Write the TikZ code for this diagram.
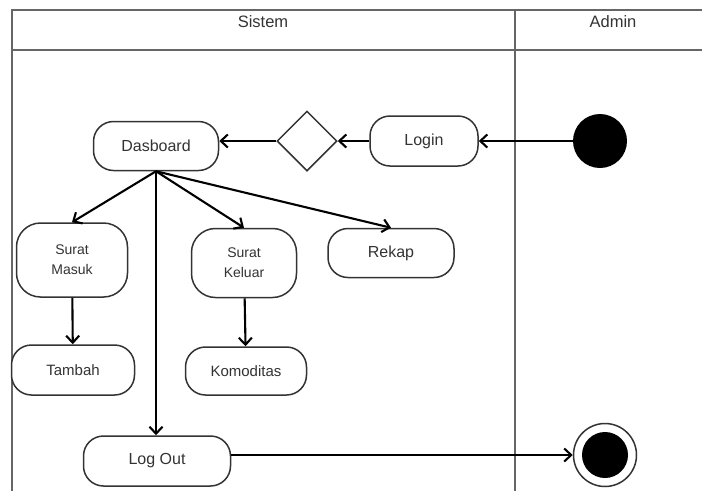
\documentclass[tikz,border=0pt]{standalone}
\usepackage{fontspec}
\setmainfont{Liberation Sans}
\usetikzlibrary{shapes.geometric,arrows.meta}

\begin{document}
\begin{tikzpicture}[yscale=-1, x=1pt, y=1pt,
    act/.style={draw=black!80, line width=1.5pt, rounded corners=20pt, fill=white,
      text=black!80, font=\fontsize{16}{18}\selectfont, align=center, inner sep=0pt},
    flow/.style={-{Straight Barb[length=7pt,width=13pt]}, line width=2.1pt},
    lane/.style={draw=black!60, line width=1.5pt}]
    \useasboundingbox (0,0) rectangle (702,491);

    % swimlanes
    \draw[lane] (12,491) -- (12,10) -- (702,10);
    \draw[lane] (12,50) -- (702,50);
    \draw[lane] (515,10) -- (515,491);
    \node[text=black!80, font=\fontsize{16.5}{18}\selectfont] (sistem) at (263,22) {Sistem};
    \node[text=black!80, font=\fontsize{16.5}{18}\selectfont] (admin) at (613,22) {Admin};

    \node[circle, fill=black, minimum size=54pt, inner sep=0pt] (init) at (600,141) {};
    \node[act, minimum width=108pt, minimum height=50pt] (login) at (424,141) {Login};
    \node[diamond, draw=black!80, line width=1.5pt, minimum width=60pt, minimum height=60pt,
      inner sep=0pt] (dec) at (307,141) {};
    \node[act, minimum width=125pt, minimum height=49pt] (dash) at (156,146) {Dasboard};

    \node[act, rounded corners=24pt, minimum width=111pt, minimum height=74pt,
      font=\fontsize{14}{20}\selectfont] (masuk) at (72,260) {Surat\\Masuk};
    \node[act, rounded corners=24pt, minimum width=105pt, minimum height=69pt,
      font=\fontsize{14}{20}\selectfont] (keluar) at (244,263) {Surat\\Keluar};
    \node[act, minimum width=126pt, minimum height=49pt] (rekap) at (391,253) {Rekap};
    \node[act, minimum width=123pt, minimum height=50pt,
      font=\fontsize{15}{18}\selectfont] (tambah) at (73,370) {Tambah};
    \node[act, minimum width=121pt, minimum height=48pt,
      font=\fontsize{15}{18}\selectfont] (komod) at (246,371) {Komoditas};
    \node[act, minimum width=147pt, minimum height=50pt] (logout) at (157,461) {Log Out};

    \node[circle, draw=black!80, line width=1.5pt, minimum size=63pt, inner sep=0pt] (final) at (605,455) {};
    \fill (final.center) circle (23pt);

    \draw[flow] (init) -- (login);
    \draw[flow] (login) -- (dec);
    \draw[flow] (dec.west) -- (dec.west -| dash.east);
    \draw[flow] (dash.south) -- (masuk.north);
    \draw[flow] (dash.south) -- (keluar.north);
    \draw[flow] (dash.south) -- (rekap.north);
    \draw[flow] (dash.south) -- (dash.south |- logout.north);
    \draw[flow] (masuk) -- (tambah);
    \draw[flow] (keluar) -- (komod);
    \draw[flow] (logout.east |- final) -- (final);
  \end{tikzpicture}
\end{document}
